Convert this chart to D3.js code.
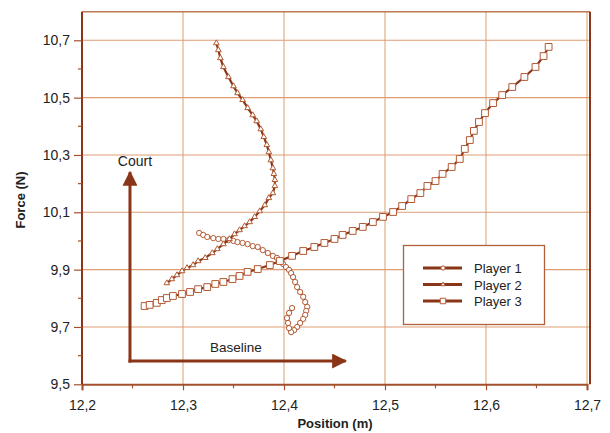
<!DOCTYPE html>
<html><head><meta charset="utf-8">
<script src="https://cdn.jsdelivr.net/npm/d3@7"></script>
<style>body{margin:0;background:#fff}text{font-family:"Liberation Sans",Arial,Helvetica,sans-serif}</style>
</head><body><svg id="c" width="610" height="433"></svg>
<script>
const xTicks = [12.2, 12.3, 12.4, 12.5, 12.6, 12.7];
const xTickLabels = ["12,2","12,3","12,4","12,5","12,6","12,7"];
const yTicks = [9.5, 9.7, 9.9, 10.1, 10.3, 10.5, 10.7];
const yTickLabels = ["9,5","9,7","9,9","10,1","10,3","10,5","10,7"];
const xMinor = [12.25, 12.35, 12.45, 12.55, 12.65];
const yMinor = [9.6, 9.8, 10.0, 10.2, 10.4, 10.6];
const seriesNames = ["Player 1","Player 2","Player 3"];

const player1X = [12.316,12.320,12.324,12.330,12.335,12.340,12.345,12.350,12.354,12.359,12.364,12.369,12.374,12.379,12.384,12.389,12.393,12.396,12.399,12.402,12.405,12.407,12.409,12.411,12.413,12.416,12.419,12.421,12.423,12.422,12.421,12.419,12.416,12.413,12.410,12.407,12.405,12.404,12.403,12.405,12.408];
const player1Y = [10.028,10.021,10.014,10.010,10.007,10.007,10.003,10.000,9.996,9.993,9.989,9.982,9.979,9.968,9.958,9.948,9.941,9.930,9.920,9.909,9.899,9.888,9.874,9.857,9.839,9.822,9.805,9.787,9.770,9.756,9.742,9.728,9.714,9.700,9.689,9.682,9.696,9.714,9.731,9.749,9.766];

const player2X = [12.284,12.289,12.294,12.299,12.304,12.310,12.315,12.322,12.329,12.334,12.340,12.346,12.351,12.356,12.361,12.366,12.371,12.376,12.381,12.385,12.389,12.391,12.391,12.390,12.389,12.387,12.385,12.383,12.380,12.377,12.373,12.369,12.364,12.359,12.354,12.350,12.345,12.340,12.337,12.335,12.333];
const player2Y = [9.853,9.867,9.881,9.895,9.906,9.916,9.930,9.941,9.958,9.972,9.989,10.007,10.024,10.038,10.052,10.066,10.084,10.104,10.125,10.150,10.167,10.192,10.213,10.234,10.254,10.282,10.310,10.335,10.363,10.390,10.418,10.439,10.464,10.492,10.516,10.540,10.572,10.607,10.638,10.666,10.690];

const player3X = [12.262,12.267,12.274,12.279,12.284,12.290,12.299,12.307,12.315,12.324,12.332,12.340,12.349,12.356,12.364,12.374,12.386,12.396,12.408,12.419,12.430,12.440,12.450,12.458,12.468,12.478,12.488,12.498,12.508,12.517,12.526,12.535,12.542,12.550,12.557,12.566,12.574,12.579,12.584,12.588,12.593,12.599,12.607,12.616,12.626,12.638,12.649,12.657,12.662];
const player3Y = [9.773,9.777,9.784,9.794,9.801,9.808,9.815,9.822,9.832,9.839,9.850,9.857,9.867,9.878,9.892,9.902,9.916,9.930,9.948,9.965,9.979,9.993,10.007,10.021,10.035,10.049,10.066,10.084,10.101,10.122,10.146,10.167,10.192,10.209,10.234,10.258,10.286,10.321,10.352,10.384,10.415,10.446,10.481,10.509,10.537,10.572,10.607,10.645,10.677];

// annotation arrows (data coords)
const arrowOrigin = [12.2475, 9.581];
const courtTip = [12.2475, 10.240];
const baselineTip = [12.461, 9.581];

const svg = d3.select("#c");
const x = d3.scaleLinear().domain([12.2, 12.7]).range([82, 587]);
const y = d3.scaleLinear().domain([9.5, 10.7]).range([384.3, 40.3]);
const dark = "#8a3517", markStroke = "#b35a33";
const topY = y(10.8), rightX = 590;

// gridlines
svg.append("g").selectAll("line").data(xTicks.slice(1)).join("line")
  .attr("x1", d=>x(d)).attr("x2", d=>x(d)).attr("y1", topY).attr("y2", y(9.5))
  .attr("stroke", "#e8c3a6").attr("stroke-width", 1.6);
svg.append("g").selectAll("line").data(yTicks.slice(1)).join("line")
  .attr("x1", x(12.2)).attr("x2", rightX).attr("y1", d=>y(d)).attr("y2", d=>y(d))
  .attr("stroke", "#dd9c74").attr("stroke-width", 1.1);
// frame top/right
svg.append("line").attr("x1", x(12.2)).attr("x2", rightX).attr("y1", topY).attr("y2", topY)
  .attr("stroke", "#c07a52").attr("stroke-width", 1.5);
svg.append("line").attr("x1", rightX).attr("x2", rightX).attr("y1", topY).attr("y2", y(9.5))
  .attr("stroke", dark).attr("stroke-width", 2);

// axes
const xAxis = d3.axisBottom(x).tickValues(xTicks).tickFormat((d,i)=>xTickLabels[i]).tickSize(6).tickPadding(10);
const gx = svg.append("g").attr("transform", `translate(0,${y(9.5)})`).call(xAxis);
gx.select(".domain").attr("stroke", "#a4502c").attr("stroke-width", 2);
gx.selectAll(".tick line").attr("stroke", "#a4502c").attr("stroke-width", 1.2);
gx.selectAll("text").attr("font-size", 14).attr("fill", "#222");
svg.append("g").selectAll("line").data(xMinor).join("line")
  .attr("x1", d=>x(d)).attr("x2", d=>x(d)).attr("y1", y(9.5)).attr("y2", y(9.5)+4)
  .attr("stroke", "#a4502c").attr("stroke-width", 1.2);

const yAxis = d3.axisLeft(y).tickValues(yTicks).tickFormat((d,i)=>yTickLabels[i]).tickSize(8).tickPadding(4);
const gy = svg.append("g").attr("transform", `translate(${x(12.2)},0)`).call(yAxis);
gy.select(".domain").attr("d", `M0,${topY}V${y(9.5)}`).attr("stroke", dark).attr("stroke-width", 2);
gy.selectAll(".tick line").attr("stroke", "#a4502c").attr("stroke-width", 1.2);
gy.selectAll("text").attr("font-size", 14).attr("fill", "#222");
svg.append("g").selectAll("line").data(yMinor).join("line")
  .attr("x1", x(12.2)-4).attr("x2", x(12.2)).attr("y1", d=>y(d)).attr("y2", d=>y(d))
  .attr("stroke", "#a4502c").attr("stroke-width", 1.2);

// titles
svg.append("text").attr("x", 335).attr("y", 428).attr("text-anchor", "middle")
  .attr("font-size", 13).attr("font-weight", "bold").attr("fill", "#222").text("Position (m)");
svg.append("text").attr("transform", "translate(25,200) rotate(-90)").attr("text-anchor", "middle")
  .attr("font-size", 13).attr("font-weight", "bold").attr("fill", "#222").text("Force (N)");

// arrows
const defs = svg.append("defs");
defs.append("marker").attr("id", "ah").attr("viewBox", "0 0 10 10").attr("refX", 9).attr("refY", 5)
  .attr("markerWidth", 5.5).attr("markerHeight", 5).attr("markerUnits", "strokeWidth").attr("orient", "auto")
  .append("path").attr("d", "M0,0L10,5L0,10Z").attr("fill", dark);
svg.append("line").attr("x1", x(arrowOrigin[0])).attr("y1", y(arrowOrigin[1])+1.5)
  .attr("x2", x(courtTip[0])).attr("y2", y(courtTip[1]))
  .attr("stroke", dark).attr("stroke-width", 3).attr("marker-end", "url(#ah)");
svg.append("line").attr("x1", x(arrowOrigin[0])-1.5).attr("y1", y(arrowOrigin[1]))
  .attr("x2", x(baselineTip[0])).attr("y2", y(baselineTip[1]))
  .attr("stroke", dark).attr("stroke-width", 3).attr("marker-end", "url(#ah)");
svg.append("text").attr("x", x(arrowOrigin[0])+5).attr("y", y(courtTip[1])-6).attr("text-anchor", "middle")
  .attr("font-size", 14).attr("fill", "#222").text("Court");
svg.append("text").attr("x", 236).attr("y", y(arrowOrigin[1])-9).attr("text-anchor", "middle")
  .attr("font-size", 13.5).attr("fill", "#222").text("Baseline");

// series
const series = [
  {name: seriesNames[0], xs: player1X, ys: player1Y, shape: d3.symbolCircle, size: 22},
  {name: seriesNames[1], xs: player2X, ys: player2Y, shape: d3.symbolTriangle, size: 14},
  {name: seriesNames[2], xs: player3X, ys: player3Y, shape: d3.symbolSquare, size: 46}
];
const line = d3.line().x(d=>x(d[0])).y(d=>y(d[1])).curve(d3.curveLinear);
series.forEach(s => {
  const pts = s.xs.map((v,i)=>[v, s.ys[i]]);
  const g = svg.append("g");
  g.append("path").attr("d", line(pts)).attr("fill", "none").attr("stroke", dark).attr("stroke-width", 2.2);
  g.selectAll("path.m").data(pts).join("path").attr("class", "m")
    .attr("transform", d=>`translate(${x(d[0])},${y(d[1])})`)
    .attr("d", d3.symbol().type(s.shape).size(s.size))
    .attr("fill", "#fff").attr("stroke", markStroke).attr("stroke-width", 1);
});

// legend
const lg = svg.append("g");
lg.append("rect").attr("x", 403.5).attr("y", 245.5).attr("width", 141).attr("height", 79)
  .attr("fill", "#fff").attr("stroke", "#b0603a").attr("stroke-width", 1.3);
const legSize = [14, 8, 30];
series.forEach((s,i) => {
  const ly = 268 + i*16.5;
  lg.append("line").attr("x1", 423).attr("x2", 462).attr("y1", ly).attr("y2", ly)
    .attr("stroke", dark).attr("stroke-width", 3);
  lg.append("path").attr("transform", `translate(443,${ly})`).attr("d", d3.symbol().type(s.shape).size(legSize[i])())
    .attr("fill", "#fff").attr("stroke", markStroke).attr("stroke-width", 1);
  lg.append("text").attr("x", 474).attr("y", ly+5).attr("font-size", 13).attr("fill", "#222").text(s.name);
});
</script></body></html>
